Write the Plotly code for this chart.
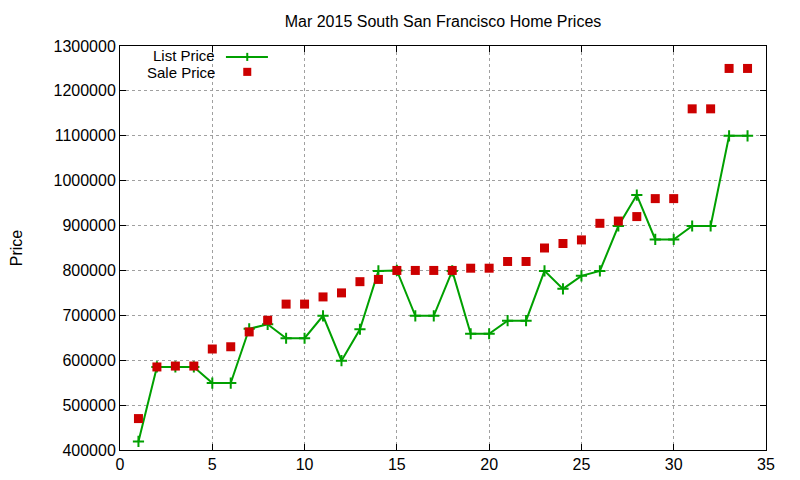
import plotly.graph_objects as go

# house index on x, prices
house = list(range(1, 35))

list_price = [419000, 585000, 585000, 585000, 549000, 549000, 670000, 680000,
              649000, 649000, 699000, 599000, 669000, 799000, 800000, 699000,
              699000, 799000, 659000, 659000, 688000, 688000, 799000, 759000,
              788000, 799000, 899000, 968000, 869000, 869000, 899000, 899000,
              1100000, 1100000]

sale_price = [470000, 585000, 587000, 587000, 625000, 630000, 663000, 689000,
              725000, 725000, 741000, 750000, 775000, 780000, 800000, 800000,
              800000, 800000, 805000, 805000, 820000, 820000, 850000, 860000,
              868000, 905000, 910000, 920000, 960000, 960000, 1160000, 1160000,
              1250000, 1250000]

x_ticks = [0, 5, 10, 15, 20, 25, 30, 35]
y_ticks = list(range(400000, 1300001, 100000))

green = "#00a000"
red = "#cc0000"
font = "Liberation Sans, Arial, sans-serif"

fig = go.Figure()

fig.add_trace(go.Scatter(x=house, y=list_price,
                         mode="lines+markers",
                         name="List Price",
                         line=dict(color=green, width=2),
                         marker=dict(symbol="cross-thin", size=8,
                                     line=dict(color=green, width=2)),
                         showlegend=False))

fig.add_trace(go.Scatter(x=house, y=sale_price,
                         mode="markers",
                         name="Sale Price",
                         marker=dict(symbol="square", size=9, color=red),
                         showlegend=False))

# gnuplot-style legend: text on the left, sample on the right
fig.add_annotation(x=0.150, y=0.977, xref="paper", yref="paper",
                   text="List Price", showarrow=False, xanchor="right",
                   yanchor="middle", height=15,
                   font=dict(family=font, size=15, color="black"))
fig.add_annotation(x=0.150, y=0.935, xref="paper", yref="paper",
                   text="Sale Price", showarrow=False, xanchor="right",
                   yanchor="middle", height=15,
                   font=dict(family=font, size=15, color="black"))
fig.add_shape(type="line", xref="paper", yref="paper",
              x0=0.164, x1=0.229, y0=0.973, y1=0.973,
              line=dict(color=green, width=2))
fig.add_shape(type="line", xref="paper", yref="paper",
              x0=0.197, x1=0.197, y0=0.963, y1=0.983,
              line=dict(color=green, width=2))
fig.add_shape(type="rect", xref="paper", yref="paper",
              x0=0.1908, x1=0.2032, y0=0.926, y1=0.946,
              fillcolor=red, line=dict(width=0))

fig.update_layout(title=dict(text="Mar 2015 South San Francisco Home Prices",
                             x=0.5, xref="paper", xanchor="center",
                             y=0.973, yanchor="middle",
                             font=dict(family=font, size=16, color="black")),
                  width=800, height=480,
                  margin=dict(l=112, r=42, t=38, b=38),
                  paper_bgcolor="white",
                  plot_bgcolor="white",
                  font=dict(family=font, size=16, color="black"))

fig.update_xaxes(range=[0, 35],
                 tickvals=x_ticks,
                 showgrid=True, gridcolor="#a0a0a0", griddash="dot",
                 gridwidth=1,
                 showline=True, linecolor="black", linewidth=1, mirror="ticks",
                 ticks="inside", ticklen=6, tickcolor="black",
                 zeroline=False)

fig.update_yaxes(range=[400000, 1300000],
                 tickvals=y_ticks,
                 tickformat="d",
                 automargin=False,
                 title=dict(text="Price", standoff=30,
                            font=dict(family=font, size=16)),
                 showgrid=True, gridcolor="#a0a0a0", griddash="dot",
                 gridwidth=1,
                 showline=True, linecolor="black", linewidth=1, mirror="ticks",
                 ticks="inside", ticklen=6, tickcolor="black",
                 zeroline=False)

fig.write_html("out.html")
